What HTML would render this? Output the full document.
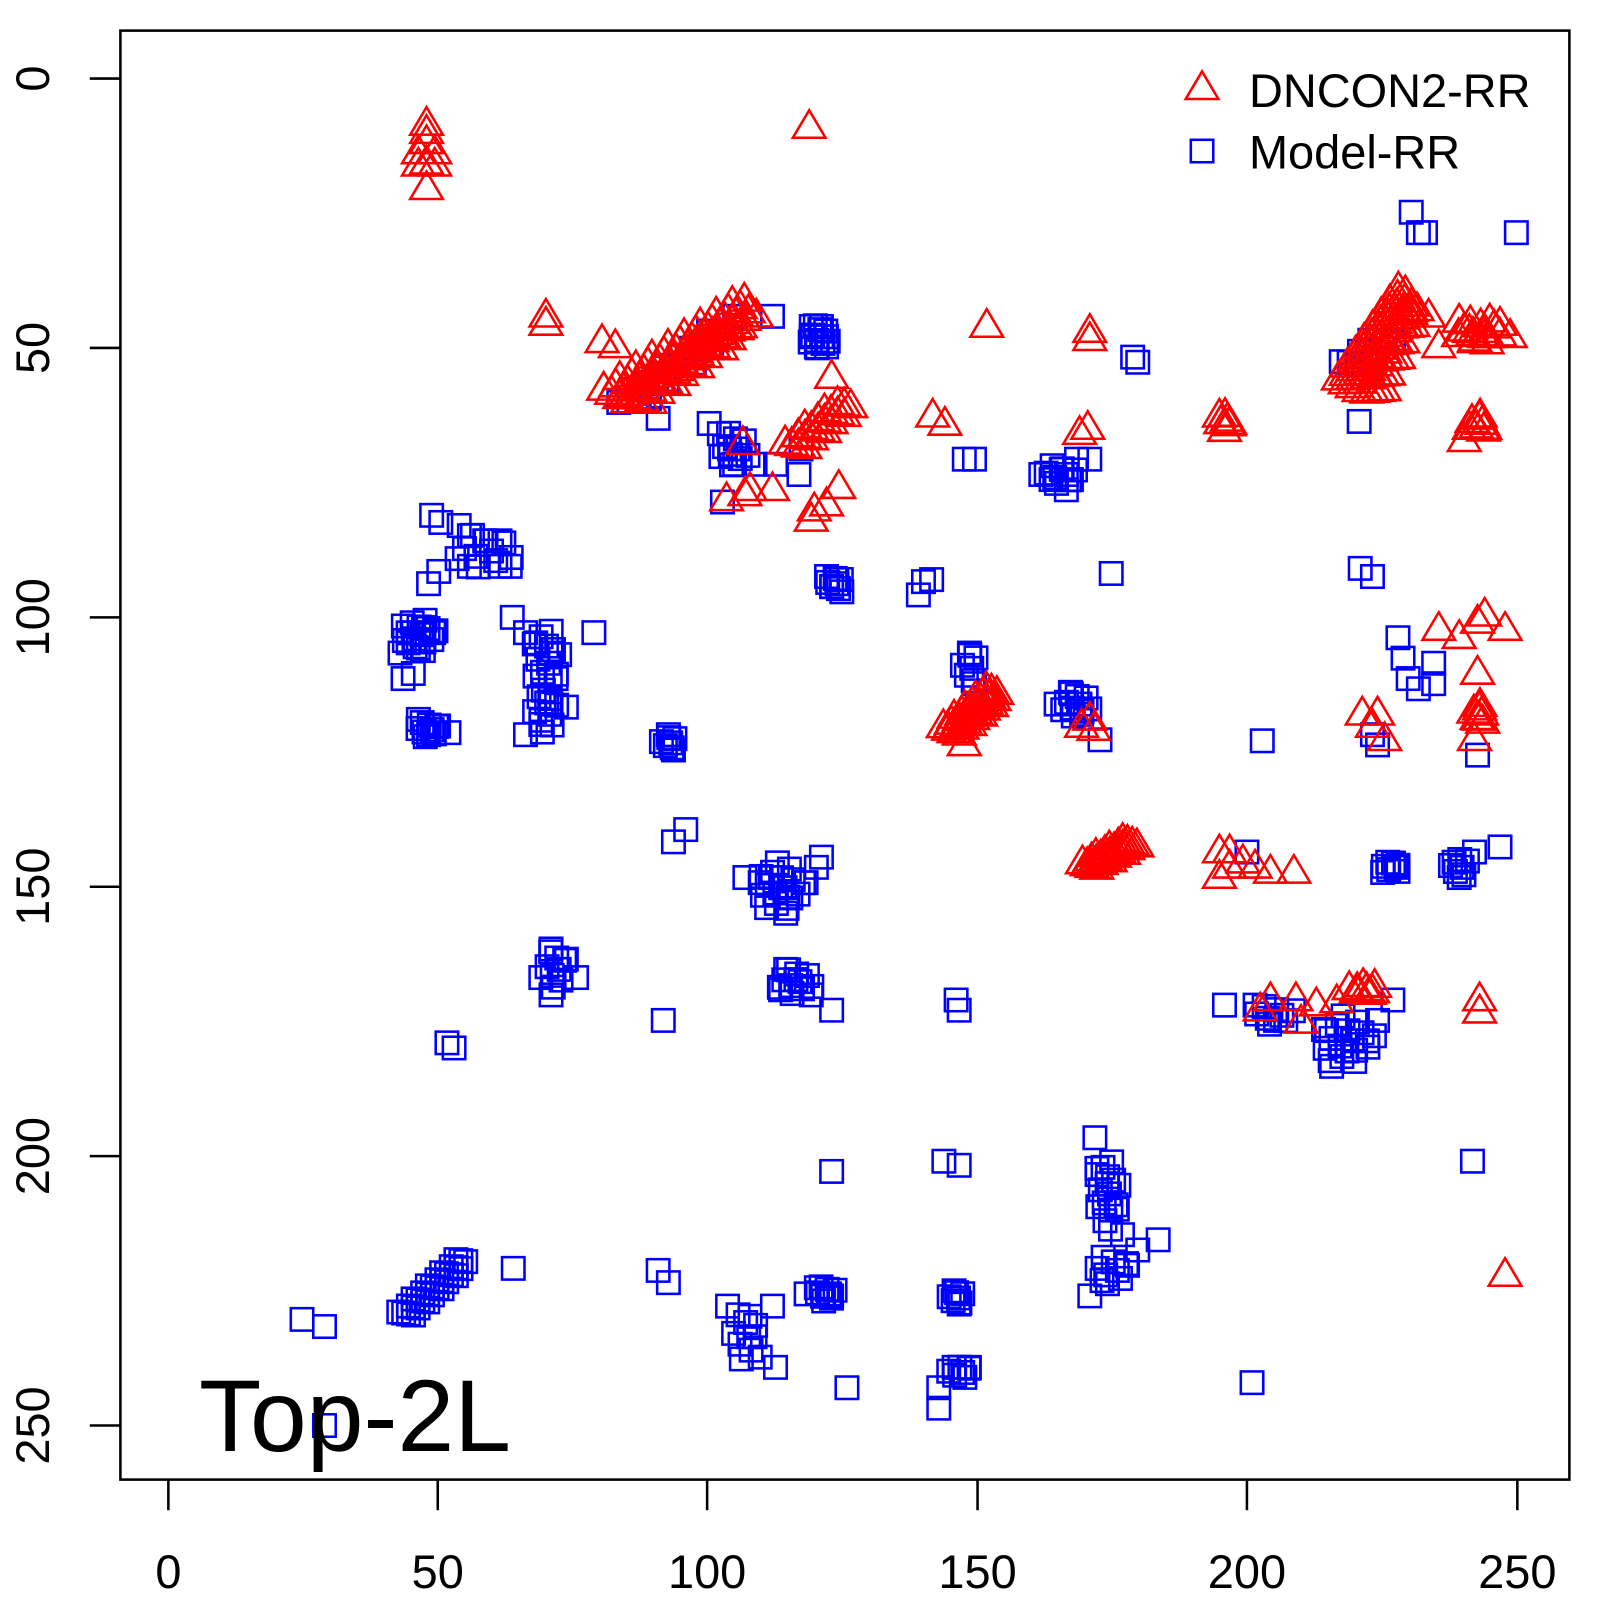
<!DOCTYPE html>
<html><head><meta charset="utf-8"><style>
html,body{margin:0;padding:0;background:#fff}
svg{display:block}
text{font-family:"Liberation Sans",sans-serif;fill:#000}
</style></head><body>
<svg id="s" width="1600" height="1600" viewBox="0 0 1568 1568" xmlns="http://www.w3.org/2000/svg">
<rect x="118" y="30" width="1420" height="1420" fill="none" stroke="#000" stroke-width="2.5"/>
<g stroke="#000" stroke-width="2.5">
<line x1="165" y1="1450" x2="165" y2="1480"/><line x1="429" y1="1450" x2="429" y2="1480"/><line x1="693" y1="1450" x2="693" y2="1480"/><line x1="958" y1="1450" x2="958" y2="1480"/><line x1="1222" y1="1450" x2="1222" y2="1480"/><line x1="1487" y1="1450" x2="1487" y2="1480"/>
<line x1="88" y1="77" x2="118" y2="77"/><line x1="88" y1="341" x2="118" y2="341"/><line x1="88" y1="605" x2="118" y2="605"/><line x1="88" y1="869" x2="118" y2="869"/><line x1="88" y1="1133" x2="118" y2="1133"/><line x1="88" y1="1397" x2="118" y2="1397"/>
</g>
<g font-size="46" text-anchor="middle">
<text x="165" y="1556">0</text><text x="429" y="1556">50</text><text x="693" y="1556">100</text><text x="958" y="1556">150</text><text x="1222" y="1556">200</text><text x="1487" y="1556">250</text>
<text transform="translate(48,77) rotate(-90)">0</text>
<text transform="translate(48,341) rotate(-90)">50</text>
<text transform="translate(48,605) rotate(-90)">100</text>
<text transform="translate(48,869) rotate(-90)">150</text>
<text transform="translate(48,1133) rotate(-90)">200</text>
<text transform="translate(48,1397) rotate(-90)">250</text>
</g>
<g id="sq" fill="none" stroke="#0000ff" stroke-width="2.5"></g>
<g id="tr" fill="none" stroke="#ff0000" stroke-width="2.5"></g>
<text x="1224" y="105" font-size="46">DNCON2-RR</text>
<text x="1224" y="165" font-size="46">Model-RR</text>
<text x="195" y="1422" font-size="100">Top-2L</text>
</svg>
<script>
var NS="http://www.w3.org/2000/svg";
var sq=document.getElementById("sq"),tr=document.getElementById("tr");
function S(x,y){var r=document.createElementNS(NS,"rect");r.setAttribute("x",x-11);r.setAttribute("y",y-11);r.setAttribute("width",22);r.setAttribute("height",22);sq.appendChild(r);}
function T(x,y){var p=document.createElementNS(NS,"polygon");p.setAttribute("points",(x-16)+","+(y+10)+" "+(x+16)+","+(y+10)+" "+x+","+(y-17));tr.appendChild(p);}
function band(f,x1,y1,x2,y2,n,w){for(var i=0;i<=n;i++){var t=i/n;var x=x1+(x2-x1)*t,y=y1+(y2-y1)*t;var o=((i*37)%7-3)/3*w;f(x+o*0.7,y+o*0.7);}}
function blob(f,cx,cy,rx,ry,n){for(var i=0;i<n;i++){var a=i*2.39996,r=Math.sqrt((i+0.5)/n);f(cx+Math.cos(a)*r*rx,cy+Math.sin(a)*r*ry);}}
var sqs=[[1178,148],[1383,208],[1390,228],[1397,228],[1486,228],[1110,350],[1115,355],[1332,413],[720,310],[757,310],[795,320],[805,320],[795,330],[810,330],[800,340],[810,340],[695,415],[705,425],[715,440],[720,455],[740,455],[760,455],[785,440],[783,465],[708,492],[645,410],[955,450],[945,450],[1020,465],[1030,470],[1040,460],[1050,470],[1045,480],[1055,450],[1068,450],[423,505],[432,512],[450,515],[460,525],[475,530],[490,530],[430,560],[420,572],[460,555],[490,555],[500,555],[810,565],[815,575],[825,580],[820,568],[905,570],[913,568],[900,583],[1089,562],[1333,557],[1345,565],[392,640],[400,630],[405,620],[415,615],[425,620],[410,635],[395,665],[405,660],[502,605],[515,620],[525,630],[540,640],[545,665],[540,690],[530,710],[515,720],[555,693],[582,620],[410,705],[420,720],[428,712],[440,718],[655,720],[660,735],[950,640],[955,670],[1035,690],[1050,680],[1060,700],[1078,725],[1237,726],[1370,625],[1375,645],[1380,665],[1405,650],[1405,670],[1390,675],[1345,720],[1350,730],[1448,740],[672,813],[660,825],[730,860],[745,865],[755,860],[765,870],[775,880],[790,865],[800,850],[770,895],[805,840],[1222,835],[1360,845],[1370,848],[1355,855],[1425,845],[1430,860],[1445,835],[1470,830],[540,930],[555,940],[565,958],[530,958],[540,975],[770,950],[780,960],[795,975],[815,990],[765,970],[650,1000],[438,1022],[445,1027],[937,980],[940,990],[1200,985],[1230,985],[1250,1000],[1300,1010],[1305,1045],[1320,1030],[1340,1020],[1350,1000],[1365,980],[1073,1115],[1075,1145],[1085,1160],[1095,1185],[1100,1210],[1115,1225],[1135,1215],[1105,1240],[1080,1255],[1068,1270],[925,1138],[940,1142],[815,1148],[1443,1138],[296,1293],[318,1300],[503,1243],[645,1245],[655,1257],[713,1280],[735,1290],[740,1310],[757,1280],[760,1340],[745,1330],[800,1262],[815,1270],[790,1268],[935,1265],[940,1278],[920,1360],[935,1340],[950,1340],[920,1380],[830,1360],[1227,1355],[318,1397]];
sqs.forEach(function(p){S(p[0],p[1]);});
band(S,612,400,700,330,14,8);band(S,395,1290,455,1235,30,6);band(S,1320,360,1360,330,10,8);
blob(S,803,330,10,14,10);blob(S,410,622,18,18,14);blob(S,535,650,14,40,14);blob(S,535,700,15,20,8);blob(S,420,715,14,8,8);
blob(S,655,728,8,8,6);blob(S,765,870,25,25,16);blob(S,780,962,18,15,10);blob(S,1055,690,15,15,10);blob(S,1320,1020,30,25,16);
blob(S,1250,995,25,10,8);blob(S,1085,1170,12,40,14);blob(S,1090,1245,20,15,8);blob(S,937,1272,8,8,6);blob(S,810,1268,12,8,8);
blob(S,730,1310,15,25,8);blob(S,818,572,8,8,6);blob(S,720,440,15,20,10);blob(S,940,1345,12,8,6);blob(S,475,540,30,20,10);
blob(S,950,655,8,20,6);blob(S,1040,465,20,10,8);blob(S,1365,850,10,6,5);blob(S,1430,850,10,12,6);blob(S,545,950,12,20,8);
var trs=[[1178,87],[418,122],[418,130],[418,140],[410,150],[426,150],[418,160],[410,162],[426,162],[418,185],[793,125],[535,310],[535,318],[967,320],[1068,325],[1068,333],[914,408],[926,416],[1066,420],[1058,425],[590,335],[603,340],[728,435],[712,490],[730,485],[757,480],[735,480],[815,370],[822,478],[798,500],[810,495],[795,510],[1195,408],[1205,415],[1200,422],[1400,310],[1410,340],[1430,315],[1440,325],[1455,330],[1470,318],[1480,330],[1445,335],[1440,420],[1450,410],[1455,420],[1435,432],[945,730],[1068,705],[1060,712],[1072,715],[1195,835],[1205,850],[1195,860],[1218,845],[1230,850],[1245,855],[1268,855],[1205,835],[1410,617],[1430,625],[1448,610],[1475,617],[1455,603],[1448,660],[1450,695],[1450,705],[1445,725],[1335,700],[1350,700],[1345,712],[1357,725],[1245,980],[1270,980],[1290,985],[1310,982],[1330,970],[1345,972],[1235,990],[1275,1002],[1450,980],[1450,992],[1475,1250]];
trs.forEach(function(p){T(p[0],p[1]);});
band(T,600,390,735,300,60,12);band(T,620,395,720,320,30,10);band(T,775,440,830,395,20,8);band(T,1320,380,1380,290,50,12);band(T,930,718,975,678,30,8);band(T,1065,850,1110,825,24,6);band(T,1345,390,1385,300,20,8);
blob(T,1450,325,25,12,12);blob(T,1200,412,8,6,4);blob(T,1450,415,8,10,5);blob(T,1450,700,6,12,5);blob(T,1335,970,15,6,6);
</script>
</body></html>
